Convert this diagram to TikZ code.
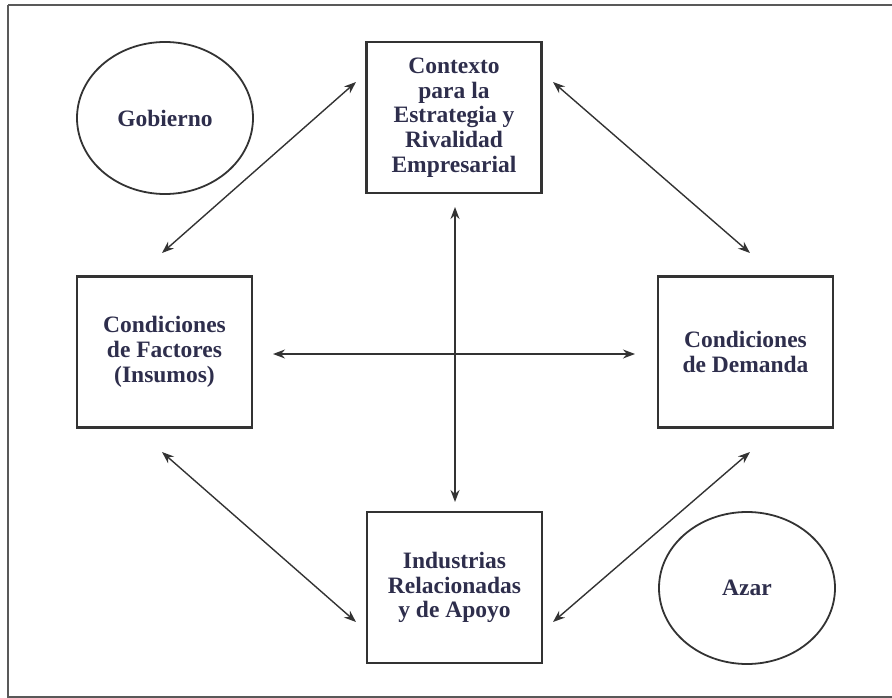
\documentclass[tikz,border=0pt]{standalone}
\usepackage{fontspec}
\setmainfont{Liberation Serif}
\usetikzlibrary{arrows.meta,shapes.geometric}
\definecolor{txt}{rgb}{0.18,0.18,0.30}
\definecolor{edge}{rgb}{0.2,0.2,0.2}
\definecolor{frame}{rgb}{0.35,0.35,0.35}
\begin{document}
\begin{tikzpicture}[x=1pt,y=-1pt,
  box/.style={draw=edge,line width=2.2pt,minimum width=175pt,minimum height=151pt,inner sep=0pt,
    align=center,text=txt,font=\fontsize{23.5}{24.7}\selectfont\bfseries},
  oval/.style={draw=edge,line width=1.8pt,ellipse,minimum width=176pt,minimum height=152pt,inner sep=0pt,
    text=txt,font=\fontsize{23.5}{24.7}\selectfont\bfseries},
  link/.style={line width=1.4pt,draw=edge,{Stealth[length=12pt,width=9pt]}-{Stealth[length=12pt,width=9pt]}}]
\useasboundingbox (0,0) rectangle (892,698);
\draw[frame,line width=1.8pt] (8,5) -- (900,5) (8,5) -- (8,697) -- (900,697);
\node[box] (T) at (454,117.5) {Contexto\\para la\\Estrategia y\\Rivalidad\\Empresarial};
\node[box] (L) at (164.5,352) {Condiciones\\de Factores\\(Insumos)};
\node[box] (R) at (745.5,352) {Condiciones\\de Demanda};
\node[box] (B) at (454.5,587.5) {Industrias\\Relacionadas\\y de Apoyo};
\node[oval] (G) at (165,118) {Gobierno};
\node[oval] (A) at (747,588) {Azar};
\coordinate (tl1) at (162,253);
\coordinate (tl2) at (356,82);
\coordinate (tr1) at (553,82);
\coordinate (tr2) at (750,253);
\coordinate (bl1) at (162,452);
\coordinate (bl2) at (356,622);
\coordinate (br1) at (553,622);
\coordinate (br2) at (750,452);
\coordinate (h1) at (273,354);
\coordinate (h2) at (635,354);
\coordinate (v1) at (455,207);
\coordinate (v2) at (455,502);
\draw[link] (tl1) -- (tl2);
\draw[link] (tr1) -- (tr2);
\draw[link] (bl1) -- (bl2);
\draw[link] (br1) -- (br2);
\draw[link] (h1) -- (h2);
\draw[link] (v1) -- (v2);
\end{tikzpicture}
\end{document}
